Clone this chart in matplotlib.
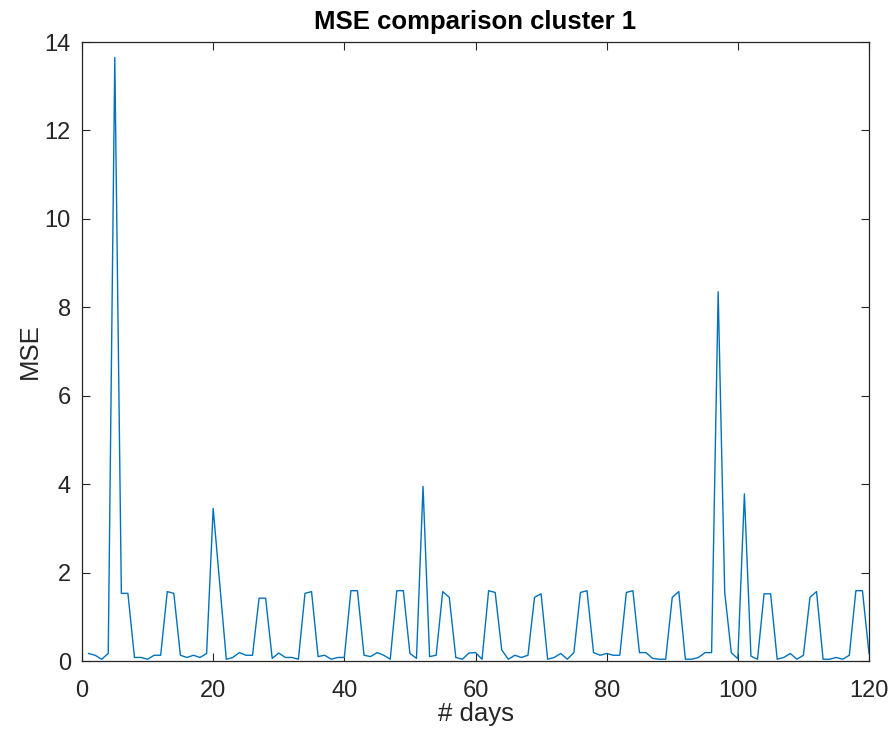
import matplotlib
matplotlib.use("Agg")
import matplotlib.pyplot as plt

# Data
days = list(range(1, 121))
mse = [
    0.17, 0.13, 0.04, 0.17, 13.65, 1.53, 1.53, 0.08, 0.08, 0.04,
    0.13, 0.13, 1.57, 1.53, 0.13, 0.08, 0.13, 0.08, 0.17, 3.45,
    1.75, 0.04, 0.08, 0.19, 0.13, 0.13, 1.42, 1.42, 0.06, 0.18,
    0.08, 0.08, 0.04, 1.53, 1.57, 0.10, 0.13, 0.04, 0.08, 0.08,
    1.59, 1.59, 0.13, 0.10, 0.19, 0.13, 0.04, 1.59, 1.59, 0.17,
    0.06, 3.95, 0.10, 0.13, 1.57, 1.44, 0.08, 0.04, 0.18, 0.19,
    0.04, 1.59, 1.55, 0.25, 0.04, 0.13, 0.08, 0.13, 1.44, 1.52,
    0.04, 0.08, 0.17, 0.04, 0.19, 1.55, 1.59, 0.19, 0.13, 0.17,
    0.13, 0.13, 1.55, 1.59, 0.19, 0.19, 0.06, 0.04, 0.04, 1.44,
    1.57, 0.04, 0.04, 0.08, 0.19, 0.19, 8.35, 1.55, 0.19, 0.05,
    3.78, 0.11, 0.04, 1.52, 1.52, 0.04, 0.08, 0.17, 0.04, 0.13,
    1.44, 1.57, 0.04, 0.04, 0.08, 0.04, 0.13, 1.59, 1.59, 0.17,
]
x_ticks = [0, 20, 40, 60, 80, 100, 120]
y_ticks = [0, 2, 4, 6, 8, 10, 12, 14]
title = "MSE comparison cluster 1"
x_label = "# days"
y_label = "MSE"

plt.rcParams['font.family'] = ['Liberation Sans', 'DejaVu Sans']
axis_col = '#262626'

fig = plt.figure(figsize=(8.93, 7.38), dpi=100)
ax = fig.add_axes([82 / 893, 1 - 661 / 738, (869 - 82) / 893, (661 - 42) / 738])

ax.plot(days, mse, color='#0072BD', linewidth=1.0)

ax.set_xlim(0, 120)
ax.set_ylim(0, 14)
ax.set_xticks(x_ticks)
ax.set_yticks(y_ticks)
ax.tick_params(direction='in', length=5.5, width=0.8, colors=axis_col,
               labelsize=17, top=True, right=True)
ax.tick_params(axis='x', pad=13.5)
ax.tick_params(axis='y', pad=8)
for s in ax.spines.values():
    s.set_color(axis_col)
    s.set_linewidth(0.9)

ax.set_title(title, fontsize=18.5, fontweight='bold', color='black', pad=9.5)
ax.set_xlabel(x_label, fontsize=18.5, color=axis_col, labelpad=0.5)
ax.set_ylabel(y_label, fontsize=18.5, color=axis_col, labelpad=2)

fig.savefig("out.png", dpi=100)
